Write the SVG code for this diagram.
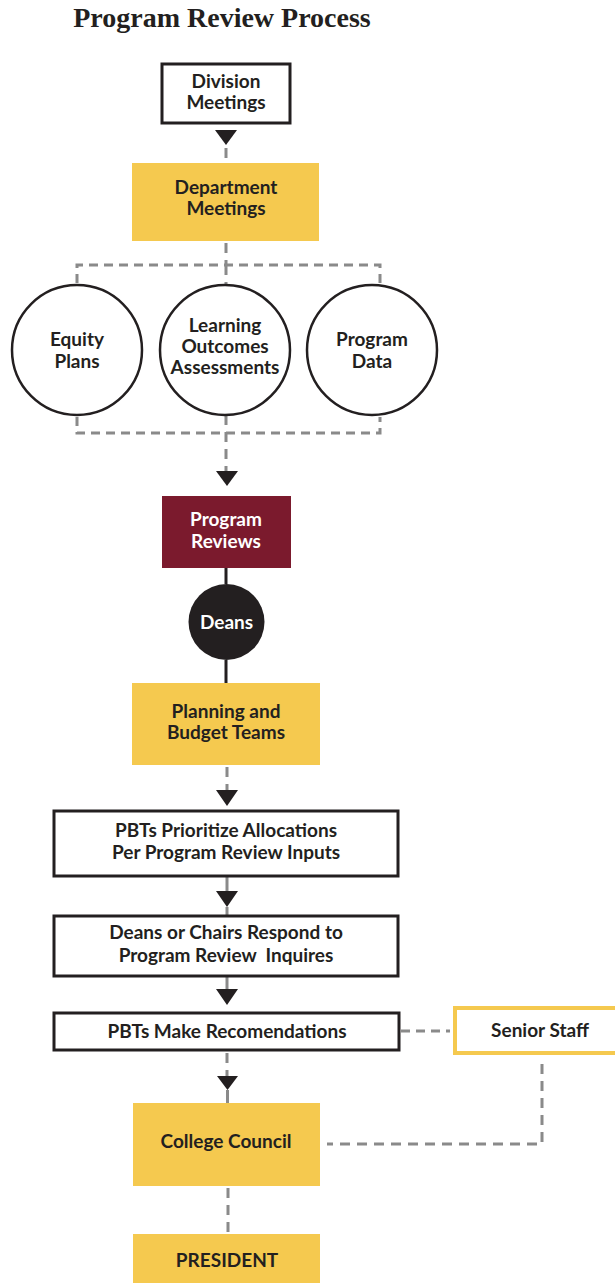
<svg xmlns="http://www.w3.org/2000/svg" width="615" height="1283" viewBox="0 0 615 1283">
<style>
.t{font-family:Lato,"Open Sans","Liberation Sans",sans-serif;font-weight:700;font-size:19px;fill:#231f20;text-anchor:middle}
.w{fill:#ffffff}
.box{fill:#ffffff;stroke:#231f20;stroke-width:3}
.yel{fill:#f5c94f}
.circ{fill:#ffffff;stroke:#231f20;stroke-width:2.5}
.dash{fill:none;stroke:#8a8a8a;stroke-width:3;stroke-dasharray:9 6}
.vdash{fill:none;stroke:#8a8a8a;stroke-width:3;stroke-dasharray:10 7}
.gl{fill:none;stroke:#8a8a8a;stroke-width:3}
.bl{fill:none;stroke:#231f20;stroke-width:3}
.arr{fill:#231f20}
</style>
<rect width="615" height="1283" fill="#ffffff"/>
<text x="222" y="27" font-family="Liberation Serif,Times New Roman,serif" font-weight="700" font-size="28" fill="#231f20" text-anchor="middle">Program Review Process</text>

<g id="connectors">
<polygon class="arr" points="215,130 237,130 226,145"/>
<line class="vdash" x1="226" y1="148" x2="226" y2="163"/>
<line class="vdash" x1="226" y1="243" x2="226" y2="265"/>
<path class="dash" d="M77,283 V265 H380 V283"/>
<line class="vdash" x1="226" y1="265" x2="226" y2="285"/>
<path class="dash" d="M77,417 V433 H380 V417"/>
<line class="vdash" x1="226" y1="415" x2="226" y2="472"/>
<polygon class="arr" points="216,471 238,471 227,486"/>
<line class="bl" x1="226" y1="568" x2="226" y2="584"/>
<line class="bl" x1="226" y1="660" x2="226" y2="683"/>
<line class="vdash" x1="227" y1="767" x2="227" y2="790"/>
<polygon class="arr" points="216,790 238,790 227,806"/>
<line class="gl" x1="227" y1="877" x2="227" y2="892"/>
<polygon class="arr" points="216,891 238,891 227,907"/>
<line class="gl" x1="227" y1="907" x2="227" y2="915"/>
<line class="gl" x1="227" y1="977" x2="227" y2="990"/>
<polygon class="arr" points="216,989 238,989 227,1005"/>
<line class="vdash" x1="227" y1="1053" x2="227" y2="1076"/>
<polygon class="arr" points="217,1076 238,1076 227.5,1090"/>
<line class="gl" x1="227.5" y1="1090" x2="227.5" y2="1103"/>
<line class="dash" x1="401" y1="1031" x2="450" y2="1031"/>
<path class="vdash" d="M542,1064 V1144 H327"/>
<line class="vdash" x1="228" y1="1188" x2="228" y2="1234"/>
</g>

<g id="division">
<rect class="box" x="162" y="64" width="128" height="59"/>
<text class="t" x="226" y="88">Division</text>
<text class="t" x="226" y="109">Meetings</text>
</g>
<g id="department">
<rect class="yel" x="132" y="163" width="187" height="78"/>
<text class="t" x="226" y="194">Department</text>
<text class="t" x="226" y="215">Meetings</text>
</g>
<g id="equity">
<circle class="circ" cx="77" cy="350" r="65"/>
<text class="t" x="77" y="346">Equity</text>
<text class="t" x="77" y="368">Plans</text>
</g>
<g id="learning">
<circle class="circ" cx="225" cy="350" r="65"/>
<text class="t" x="225" y="332">Learning</text>
<text class="t" x="225" y="353">Outcomes</text>
<text class="t" x="225" y="374">Assessments</text>
</g>
<g id="programdata">
<circle class="circ" cx="372" cy="350" r="65"/>
<text class="t" x="372" y="346">Program</text>
<text class="t" x="372" y="368">Data</text>
</g>
<g id="programreviews">
<rect x="162" y="496" width="129" height="72" fill="#7b1a2d"/>
<text class="t w" x="226" y="526">Program</text>
<text class="t w" x="226" y="548">Reviews</text>
</g>
<g id="deans">
<circle cx="226.5" cy="622" r="38" fill="#231f20"/>
<text class="t w" x="226.5" y="629">Deans</text>
</g>
<g id="planning">
<rect class="yel" x="132" y="683" width="188" height="82"/>
<text class="t" x="226" y="718">Planning and</text>
<text class="t" x="226" y="739">Budget Teams</text>
</g>
<g id="prioritize">
<rect class="box" x="54" y="811" width="344" height="65"/>
<text class="t" x="226" y="837">PBTs Prioritize Allocations</text>
<text class="t" x="226" y="859">Per Program Review Inputs</text>
</g>
<g id="respond">
<rect class="box" x="54" y="916" width="344" height="60"/>
<text class="t" x="226" y="939">Deans or Chairs Respond to</text>
<text class="t" x="226" y="962" xml:space="preserve">Program Review  Inquires</text>
</g>
<g id="recommend">
<rect class="box" x="54" y="1013" width="345" height="37"/>
<text class="t" x="227" y="1038">PBTs Make Recomendations</text>
</g>
<g id="seniorstaff">
<rect x="455" y="1008" width="200" height="45" fill="#ffffff" stroke="#f5c94f" stroke-width="4"/>
<text class="t" x="540" y="1037">Senior Staff</text>
</g>
<g id="collegecouncil">
<rect class="yel" x="133" y="1103" width="187" height="83"/>
<text class="t" x="226" y="1148">College Council</text>
</g>
<g id="president">
<rect class="yel" x="133" y="1234" width="187" height="60"/>
<text class="t" x="227" y="1267">PRESIDENT</text>
</g>
</svg>
